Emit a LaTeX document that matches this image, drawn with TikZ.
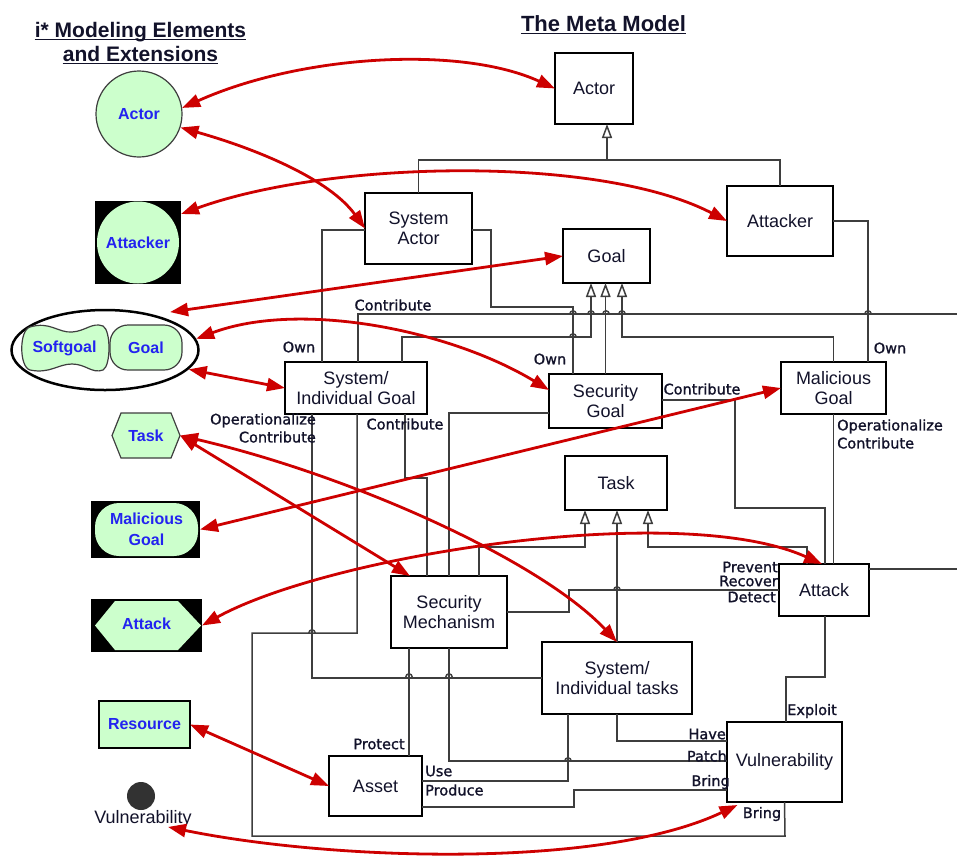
\documentclass[tikz,border=0pt]{standalone}
\usepackage{fontspec}
\setmainfont{Liberation Sans}
\newfontfamily\lblfont[FakeBold=1.2]{DejaVu Sans}
\usetikzlibrary{arrows.meta,shapes.geometric}
\definecolor{gfill}{RGB}{204,255,204}
\definecolor{rarr}{RGB}{205,0,0}
\definecolor{gln}{RGB}{62,62,62}
\definecolor{ink}{RGB}{18,18,42}
\definecolor{bluetxt}{RGB}{35,35,240}
\definecolor{dotc}{RGB}{50,50,50}
\newcommand\hopat[2]{\draw[gline] (#1-3.2,#2) arc[start angle=180,end angle=0,radius=3.2pt];}
\begin{document}
\begin{tikzpicture}[x=1pt,y=-1pt,
  mbox/.style={draw=black,line width=1.6pt,fill=white,inner sep=0pt,outer sep=0pt,align=center,font=\fontsize{18}{20}\selectfont,text=ink},
  gline/.style={draw=gln,line width=1.5pt},
  gen/.style={gline,-{Triangle[open,length=14pt,width=10pt]}},
  rarrow/.style={draw=rarr,line width=2.8pt,{Triangle[length=18pt,width=13pt]}-{Triangle[length=18pt,width=13pt]}},
  lbl/.style={font=\lblfont\fontsize{14.5}{18}\selectfont,text=ink,inner sep=0pt},
  gtxt/.style={font=\bfseries\fontsize{16}{20}\selectfont,text=bluetxt,align=center},
  htxt/.style={anchor=base,inner sep=0pt,text=ink,font=\bfseries\fontsize{21}{24}\selectfont},
]
\useasboundingbox (0,0) rectangle (957,855);
\fill[white] (0,0) rectangle (957,855);

% ---------- headings ----------
\node[htxt] (h1) at (140.5,37) {i* Modeling Elements};
\node[htxt] (h2) at (140.5,61) {and Extensions};
\node[htxt,font=\bfseries\fontsize{22}{24}\selectfont] (h3) at (603.5,31) {The Meta Model};
\foreach \h in {h1,h2,h3}
  \draw[ink,line width=1.6pt] ([yshift=-2.5pt]\h.base west) -- ([yshift=-2.5pt]\h.base east);

% ---------- left: i* elements ----------
\node[circle,draw=gln,line width=1.2pt,fill=gfill,minimum size=86pt,inner sep=0pt,gtxt] (lActor) at (139,114) {Actor};

\node[fill=black,minimum width=86pt,minimum height=83pt,inner sep=0pt,outer sep=0pt] (lAttacker) at (138,242.5) {};
\node[circle,fill=gfill,minimum size=82pt,inner sep=0pt,gtxt] (lAttackerC) at (lAttacker.center) {Attacker};

\node[ellipse,draw=black,line width=2.5pt,minimum width=187pt,minimum height=80pt,inner sep=0pt] (lEll) at (105,350) {};
\draw[draw=gln,line width=1.2pt,fill=gfill] (30,327) .. controls (50,321) and (58,333) .. (72,332)
  .. controls (86,331) and (92,322) .. (103,326) .. controls (111,330) and (111,366) .. (103,370)
  .. controls (92,374) and (86,364) .. (72,364) .. controls (58,364) and (50,374) .. (30,370)
  .. controls (19,367) and (19,330) .. cycle;
\node[gtxt,inner sep=0pt] (lSoft) at (64.5,348) {Softgoal};
\node[draw=gln,line width=1.2pt,fill=gfill,rounded corners=18pt,minimum width=72pt,minimum height=45pt,inner sep=0pt,gtxt] (lGoal) at (146,347.5) {Goal};

\draw[draw=gln,line width=1.2pt,fill=gfill] (112,435.5)--(121,413)--(171,413)--(180,435.5)--(171,458)--(121,458)--cycle;
\node[minimum width=68pt,minimum height=45pt,inner sep=0pt,outer sep=0pt,gtxt] (lTask) at (146,435.5) {Task};

\node[fill=black,minimum width=109pt,minimum height=57pt,inner sep=0pt,outer sep=0pt] (lMalGoal) at (145.5,529.5) {};
\node[fill=gfill,rounded corners=24pt,minimum width=103pt,minimum height=53pt,inner sep=0pt,gtxt,font=\bfseries\fontsize{16}{20.5}\selectfont] (lMalGoalC) at (146.5,529.5) {Malicious\\Goal};

\node[fill=black,minimum width=111pt,minimum height=53pt,inner sep=0pt,outer sep=0pt] (lAttack) at (146.5,625.5) {};
\fill[gfill] (95,625.5)--(115,601)--(178,601)--(201,625.5)--(178,650)--(115,650)--cycle;
\node[gtxt,inner sep=0pt] (lAttackT) at (146.5,624) {Attack};

\node[draw=black,line width=1.8pt,fill=gfill,minimum width=91pt,minimum height=47pt,inner sep=0pt,outer sep=0pt,gtxt] (lResource) at (144.5,724.5) {Resource};

\node[circle,fill=dotc,minimum size=28pt,inner sep=0pt] (lVuln) at (141,796) {};
\node[anchor=base,inner sep=0pt,text=ink,font=\fontsize{18}{20}\selectfont] (lVulnLabel) at (143,823) {Vulnerability};

% ---------- meta model boxes ----------
\node[mbox,minimum width=78pt,minimum height=71pt] (mActor) at (594,88.5) {Actor};
\node[mbox,minimum width=107pt,minimum height=71pt] (mSysActor) at (418.5,228.5) {System\\Actor};
\node[mbox,minimum width=106pt,minimum height=70pt] (mAttacker) at (780,221) {Attacker};
\node[mbox,minimum width=87pt,minimum height=54pt] (mGoal) at (606.5,256) {Goal};
\node[mbox,minimum width=142pt,minimum height=52pt] (mSysGoal) at (356,388) {System/\\Individual Goal};
\node[mbox,minimum width=113pt,minimum height=54pt] (mSecGoal) at (605.5,401) {Security\\Goal};
\node[mbox,minimum width=105pt,minimum height=52pt] (mMalGoal) at (833.5,388) {Malicious\\Goal};
\node[mbox,minimum width=102pt,minimum height=54pt] (mTask) at (616,483) {Task};
\node[mbox,minimum width=90pt,minimum height=52pt] (mAttack) at (824,590) {Attack};
\node[mbox,minimum width=116pt,minimum height=72pt] (mSecMech) at (449,612) {Security\\Mechanism};
\node[mbox,minimum width=150pt,minimum height=72pt] (mSysTasks) at (617,678) {System/\\Individual tasks};
\node[mbox,minimum width=93pt,minimum height=60pt] (mAsset) at (375.5,786) {Asset};
\node[mbox,minimum width=115pt,minimum height=80pt] (mVuln) at (784.5,762) {Vulnerability};

\coordinate (edgeA) at (957,314);
\coordinate (edgeB) at (957,569);

% ---------- gray connectors ----------
\draw[gline] (mSysActor.north) |- (607,160) -| (mAttacker.north);
\draw[gen] (607,160) -- ([xshift=13pt]mActor.south);

\draw[gline] ([yshift=-1.5pt]mSysActor.west) -| ([xshift=-34pt]mSysGoal.north);
\draw[gline] ([yshift=-1.5pt]mSysActor.east) -| (491,307) -| ([xshift=-32.5pt]mSecGoal.north);
\draw[gline] ([xshift=2pt]mSysGoal.north) |- (edgeA);
\draw[gen] ([xshift=46pt]mSysGoal.north) |- (591,337) -- ([xshift=-15.5pt]mGoal.south);
\draw[gen] (mSecGoal.north) -- (mSecGoal.north |- mGoal.south);
\draw[gen] (mMalGoal.north) |- (622,337) -- ([xshift=15.5pt]mGoal.south);
\draw[gline] (mAttacker.east) -| ([xshift=34.5pt]mMalGoal.north);
\draw[gline] ([yshift=1pt]mSecGoal.east) -| (735,508) -| ([xshift=1pt]mAttack.north);
\draw[gline] (mMalGoal.south) -- (mMalGoal.south |- mAttack.north);

\draw[gen] ([xshift=30pt]mSecMech.north) |- (585,547) -- ([xshift=-31pt]mTask.south);
\draw[gen] (mSysTasks.north) -- (mSysTasks.north |- mTask.south);
\draw[gen] ([xshift=-17pt]mAttack.north) |- (648,547) -- ([xshift=32pt]mTask.south);

\draw[gline] ([xshift=49pt]mSysGoal.south) |- (427,478) -- ([xshift=-22pt]mSecMech.north);
\draw[gline] ([yshift=-12pt]mSecGoal.west) -| (mSecMech.north);
\draw[gline] (mSecMech.east) -| (569,590) -- (mAttack.west);
\draw[gline] ([xshift=-44pt]mSysGoal.south) |- (mSysTasks.west);
\draw[gline] ([xshift=1pt]mSysGoal.south) |- (252,633) |- (785,836) -- (mVuln.south);
\draw[gline] ([xshift=33.5pt]mAsset.north) -- ([xshift=-40pt]mSecMech.south);
\draw[gline] (mSecMech.south) |- ([yshift=1pt]mVuln.west);
\draw[gline] ([xshift=-49pt]mSysTasks.south) |- ([yshift=5pt]mAsset.east);
\draw[gline] (mSysTasks.south) |- ([yshift=21pt]mVuln.west);
\draw[gline] ([yshift=-21pt]mAsset.east) -| (574,790) -- ([yshift=-28pt]mVuln.west);
\draw[gline] ([xshift=1pt]mAttack.south) |- (786,677) -- ([xshift=1.5pt]mVuln.north);
\draw[gline] ([yshift=21pt]mAttack.east) -- (edgeB);

% line hops
\hopat{573}{314}\hopat{591}{314}\hopat{606}{314}\hopat{622}{314}\hopat{868}{314}
\hopat{573}{337}\hopat{617}{590}\hopat{409}{677}\hopat{449}{677}\hopat{312}{633}\hopat{568}{761}

% ---------- relation labels ----------
\node[lbl] (t1) at (299,347) {Own};
\node[lbl] (t2) at (393,305) {Contribute};
\node[lbl] (t3) at (550,359) {Own};
\node[lbl] (t4) at (890,348) {Own};
\node[lbl] (t5) at (702,389) {Contribute};
\node[lbl,anchor=east,align=right] (t6) at (316,428) {Operationalize\\Contribute};
\node[lbl,anchor=west,align=left] (t7) at (837,434) {Operationalize\\Contribute};
\node[lbl] (t8) at (405,424) {Contribute};
\node[lbl,anchor=east] (t9) at (778,567) {Prevent};
\node[lbl,anchor=east] (t10) at (778,581) {Recover};
\node[lbl,anchor=east] (t11) at (776,597) {Detect};
\node[lbl] (t12) at (379,744) {Protect};
\node[lbl,anchor=west] (t13) at (425,771) {Use};
\node[lbl,anchor=west] (t14) at (425,790) {Produce};
\node[lbl,anchor=east] (t15) at (726,734) {Have};
\node[lbl,anchor=east] (t16) at (727,756) {Patch};
\node[lbl,anchor=east] (t17) at (730,782) {Bring};
\node[lbl] (t18) at (812,711) {Exploit};
\node[lbl] (t19) at (762,814) {Bring};

% ---------- red mapping arrows ----------
\draw[rarrow] (lActor.8) .. controls (300,55) and (460,45) .. (mActor.west);
\draw[rarrow] (lActor.342) .. controls (260,150) and (330,180) .. (mSysActor.west);
\draw[rarrow] ([yshift=-13pt]lAttacker.north east) .. controls (330,160) and (600,155) .. (mAttacker.west);
\draw[rarrow] ([shift={(8pt,5pt)}]lEll.30) -- (mGoal.west);
\draw[rarrow] (lEll.7) .. controls (300,300) and (450,330) .. ([yshift=11pt]mSecGoal.west);
\draw[rarrow] (lEll.347) -- (mSysGoal.west);
\draw[rarrow] (lTask.east) .. controls (350,475) and (540,560) .. (mSysTasks.north);
\draw[rarrow] (lTask.east) -- ([xshift=-39pt]mSecMech.north);
\draw[rarrow] (lMalGoal.east) -- (mMalGoal.west);
\draw[rarrow] (lAttack.east) .. controls (330,555) and (680,500) .. ([xshift=-2pt]mAttack.north);
\draw[rarrow] (lResource.east) -- (mAsset.west);
\draw[rarrow] ([xshift=25pt]lVulnLabel.south) .. controls (330,860) and (600,870) .. ([xshift=-47pt,yshift=-3pt]mVuln.south);
\end{tikzpicture}
\end{document}
